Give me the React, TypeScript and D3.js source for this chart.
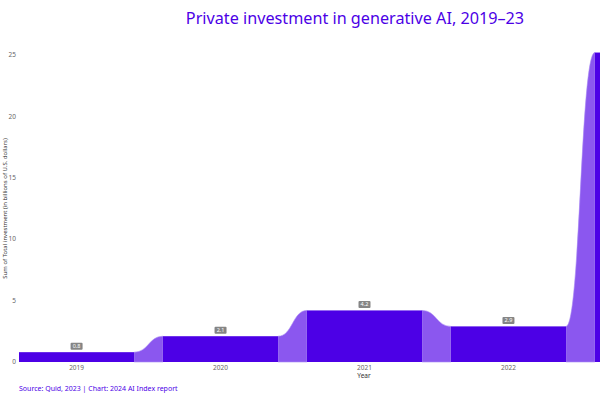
import { useRef, useEffect } from "react";
import * as d3 from "d3";

const years = ["2019", "2020", "2021", "2022", "2023"];
const investment = [0.8, 2.1, 4.2, 2.9, 25.2];
const yTicks = [0, 5, 10, 15, 20, 25];

const BAR = "#4c00e6";
const RIBBON = "#8b57ef";

export default function App() {
  const svgRef = useRef<SVGSVGElement>(null);

  useEffect(() => {
    document.body.style.margin = "0";
    if (!svgRef.current) return;
    const svg = d3.select(svgRef.current);
    svg.selectAll("*").remove();

    const width = 600;
    const height = 400;
    const baseY = 362;

    const x = d3.scaleBand<string>().domain(years).range([19, 710]).paddingInner(0.2).paddingOuter(0);
    const y = d3.scaleLinear().domain([0, 25]).range([baseY, 55]);

    svg
      .append("text")
      .text("Private investment in generative AI, 2019–23")
      .attr("x", 355)
      .attr("y", 24)
      .attr("text-anchor", "middle")
      .attr("font-family", "Noto Sans, sans-serif")
      .attr("font-size", "16.2px")
      .attr("fill", "#4c00e6");

    const g = svg.append("g");

    // ribbons between bars
    for (let i = 0; i < years.length - 1; i++) {
      const x0 = x(years[i])! + x.bandwidth();
      const x1 = x(years[i + 1])!;
      const y0 = y(investment[i]);
      const y1 = y(investment[i + 1]);
      const mid = (x0 + x1) / 2;
      const p = d3.path();
      p.moveTo(x0, baseY);
      p.lineTo(x0, y0);
      p.bezierCurveTo(mid, y0, mid, y1, x1, y1);
      p.lineTo(x1, baseY);
      p.closePath();
      g.append("path")
        .attr("d", p.toString())
        .attr("fill", RIBBON)
        .attr("stroke", "#a98af5")
        .attr("stroke-width", 0.6);
    }

    g.selectAll("rect.bar")
      .data(years)
      .join("rect")
      .attr("class", "bar")
      .attr("x", (d) => x(d)!)
      .attr("width", x.bandwidth())
      .attr("y", (d, i) => y(investment[i]))
      .attr("height", (d, i) => baseY - y(investment[i]))
      .attr("fill", BAR);

    // data labels
    const labels = g
      .selectAll("g.lbl")
      .data(years.slice(0, 4))
      .join("g")
      .attr("class", "lbl")
      .attr("transform", (d, i) => `translate(${x(d)! + x.bandwidth() / 2}, ${y(investment[i]) - 6})`);
    labels
      .append("rect")
      .attr("x", -6)
      .attr("y", -3.5)
      .attr("width", 12)
      .attr("height", 7)
      .attr("rx", 1)
      .attr("fill", "#858585");
    labels
      .append("text")
      .text((d, i) => investment[i].toFixed(1))
      .attr("text-anchor", "middle")
      .attr("dy", "0.35em")
      .attr("font-family", "Noto Sans, sans-serif")
      .attr("font-size", "5.5px")
      .attr("fill", "#ffffff");

    // y ticks
    svg
      .selectAll("text.ytick")
      .data(yTicks)
      .join("text")
      .attr("class", "ytick")
      .text((d) => d)
      .attr("x", 16)
      .attr("y", (d) => y(d))
      .attr("dy", "0.35em")
      .attr("text-anchor", "end")
      .attr("font-family", "Noto Sans, sans-serif")
      .attr("font-size", "6.5px")
      .attr("fill", "#666");

    svg
      .append("text")
      .text("Sum of Total investment (in billions of U.S. dollars)")
      .attr("transform", `translate(7, ${(y(0) + y(25)) / 2}) rotate(-90)`)
      .attr("text-anchor", "middle")
      .attr("font-family", "Noto Sans, sans-serif")
      .attr("font-size", "6px")
      .attr("fill", "#333");

    // x ticks (2023 falls outside the visible area)
    svg
      .selectAll("text.xtick")
      .data(years.slice(0, 4))
      .join("text")
      .attr("class", "xtick")
      .text((d) => d)
      .attr("x", (d) => x(d)! + x.bandwidth() / 2)
      .attr("y", 370)
      .attr("text-anchor", "middle")
      .attr("font-family", "Noto Sans, sans-serif")
      .attr("font-size", "6.5px")
      .attr("fill", "#666");

    svg
      .append("text")
      .text("Year")
      .attr("x", 364)
      .attr("y", 378)
      .attr("text-anchor", "middle")
      .attr("font-family", "Noto Sans, sans-serif")
      .attr("font-size", "6.5px")
      .attr("fill", "#333");

    svg
      .append("text")
      .text("Source: Quid, 2023 | Chart: 2024 AI Index report")
      .attr("x", 19)
      .attr("y", 391)
      .attr("font-family", "Noto Sans, sans-serif")
      .attr("font-size", "7px")
      .attr("fill", "#4c00e6");

    svg.attr("width", width).attr("height", height);
  }, []);

  return (
    <svg
      ref={svgRef}
      width={600}
      height={400}
      style={{ position: "absolute", top: 0, left: 0, background: "#fff" }}
    />
  );
}
